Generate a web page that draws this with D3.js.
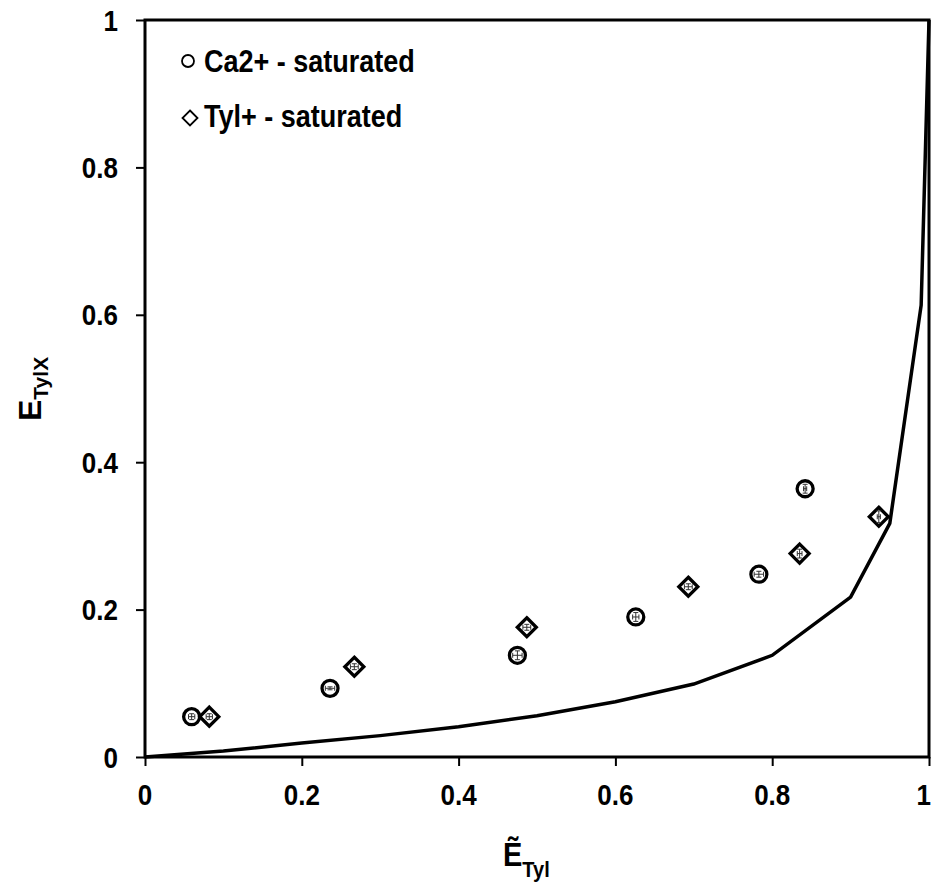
<!DOCTYPE html>
<html>
<head>
<meta charset="utf-8">
<script src="https://cdn.jsdelivr.net/npm/d3@7"></script>
<style>
  html, body { margin: 0; padding: 0; background: #fff; }
  svg { display: block; }
  text { font-family: "Liberation Sans", Arial, sans-serif; font-weight: bold; fill: #000; }
</style>
</head>
<body>
<svg id="chart" width="932" height="888"></svg>
<script>
// Theoretical selectivity curve
const curveX = [0, 0.1, 0.2, 0.3, 0.4, 0.5, 0.6, 0.7, 0.8, 0.9, 0.95, 0.99, 1];
const curveY = [0, 0.008, 0.019, 0.029, 0.041, 0.056, 0.075, 0.099, 0.138, 0.217, 0.317, 0.613, 1];

// Ca2+ - saturated measurements
const caX    = [0.0595, 0.236, 0.475, 0.626, 0.783, 0.842];
const caY    = [0.0547, 0.0932, 0.138, 0.190, 0.248, 0.364];
const caXErr = [0.004, 0.006, 0.006, 0.004, 0.006, 0.002];
const caYErr = [0.004, 0.002, 0.006, 0.006, 0.004, 0.006];

// Tyl+ - saturated measurements
const tylX    = [0.082, 0.267, 0.487, 0.693, 0.835, 0.936];
const tylY    = [0.0547, 0.1225, 0.176, 0.231, 0.276, 0.326];
const tylXErr = [0.004, 0.005, 0.005, 0.005, 0.003, 0.002];
const tylYErr = [0.004, 0.004, 0.004, 0.004, 0.006, 0.008];

const xTicks = [0, 0.2, 0.4, 0.6, 0.8, 1];
const yTicks = [0, 0.2, 0.4, 0.6, 0.8, 1];
const xTickLabels = ["0", "0.2", "0.4", "0.6", "0.8", "1"];
const yTickLabels = ["0", "0.2", "0.4", "0.6", "0.8", "1"];

const svg = d3.select("#chart");
const x = d3.scaleLinear().domain([0, 1]).range([145, 929]);
const y = d3.scaleLinear().domain([0, 1]).range([757, 20]);
const STRETCH = 1.13;

// helper: text slightly taller than wide, as in the original figure
function label(g, tx, ty, str, size, anchor) {
  return g.append("text")
    .attr("transform", `translate(${tx},${ty}) scale(1,${STRETCH})`)
    .attr("text-anchor", anchor || "start")
    .style("font-size", size + "px")
    .text(str);
}

// frame
svg.append("rect")
  .attr("x", x(0)).attr("y", y(1))
  .attr("width", x(1) - x(0)).attr("height", y(0) - y(1))
  .attr("fill", "none").attr("stroke", "#000").attr("stroke-width", 3);

// axes (ticks only, frame drawn above)
const xAxis = svg.append("g").attr("transform", `translate(0,${y(0)})`)
  .call(d3.axisBottom(x).tickValues(xTicks).tickSize(9).tickFormat(""));
const yAxis = svg.append("g").attr("transform", `translate(${x(0)},0)`)
  .call(d3.axisLeft(y).tickValues(yTicks).tickSize(9).tickFormat(""));
[xAxis, yAxis].forEach(a => {
  a.select(".domain").remove();
  a.selectAll(".tick line").attr("stroke", "#000").attr("stroke-width", 2);
});

// tick labels; the last x label is pulled in so it stays inside the page
xTicks.forEach((t, i) => {
  const last = i === xTicks.length - 1;
  label(svg, last ? 931 : x(t), 805, xTickLabels[i], 26, last ? "end" : "middle");
});
yTicks.forEach((t, i) => label(svg, 118, y(t) + 10.5, yTickLabels[i], 26, "end"));

// axis titles
const xt = svg.append("text")
  .attr("transform", `translate(503,866) scale(1,${STRETCH})`);
xt.append("tspan").style("font-size", "29px").text("\u1EBC");
xt.append("tspan").style("font-size", "20px").attr("dy", 10).text("Tyl");

const yt = svg.append("text")
  .attr("transform", "translate(41,421) rotate(-90)");
yt.append("tspan").style("font-size", "32px").text("E");
yt.append("tspan").style("font-size", "21px").attr("dy", 7).text("TylX");

// curve
const curve = curveX.map((v, i) => [v, curveY[i]]);
svg.append("path")
  .datum(curve)
  .attr("fill", "none").attr("stroke", "#000").attr("stroke-width", 3.5)
  .attr("stroke-linejoin", "miter")
  .attr("d", d3.line().x(d => x(d[0])).y(d => y(d[1])));

// error bars drawn inside markers
function errorBars(xs, ys, xe, ye) {
  const g = svg.append("g").attr("stroke", "#333").attr("stroke-width", 1);
  xs.forEach((v, i) => {
    const cx = x(v), cy = y(ys[i]);
    const dx = x(v + xe[i]) - cx, dy = cy - y(ys[i] + ye[i]);
    g.append("line").attr("x1", cx - dx).attr("x2", cx + dx).attr("y1", cy).attr("y2", cy);
    g.append("line").attr("x1", cx - dx).attr("x2", cx - dx).attr("y1", cy - 2.5).attr("y2", cy + 2.5);
    g.append("line").attr("x1", cx + dx).attr("x2", cx + dx).attr("y1", cy - 2.5).attr("y2", cy + 2.5);
    g.append("line").attr("x1", cx).attr("x2", cx).attr("y1", cy - dy).attr("y2", cy + dy);
    g.append("line").attr("x1", cx - 2.5).attr("x2", cx + 2.5).attr("y1", cy - dy).attr("y2", cy - dy);
    g.append("line").attr("x1", cx - 2.5).attr("x2", cx + 2.5).attr("y1", cy + dy).attr("y2", cy + dy);
  });
}

// Ca2+ markers
svg.append("g").selectAll("circle")
  .data(caX.map((v, i) => [v, caY[i]]))
  .join("circle")
  .attr("cx", d => x(d[0])).attr("cy", d => y(d[1])).attr("r", 8)
  .attr("fill", "#fff").attr("stroke", "#000").attr("stroke-width", 3.3);
errorBars(caX, caY, caXErr, caYErr);

// Tyl+ markers
const diamond = (cx, cy, h) => `M${cx},${cy - h}L${cx + h},${cy}L${cx},${cy + h}L${cx - h},${cy}Z`;
svg.append("g").selectAll("path")
  .data(tylX.map((v, i) => [v, tylY[i]]))
  .join("path")
  .attr("d", d => diamond(x(d[0]), y(d[1]), 9.5))
  .attr("fill", "#fff").attr("stroke", "#000").attr("stroke-width", 3.3)
  .attr("stroke-linejoin", "miter");
errorBars(tylX, tylY, tylXErr, tylYErr);

// legend
const lg = svg.append("g");
lg.append("circle").attr("cx", 188).attr("cy", 61).attr("r", 6)
  .attr("fill", "none").attr("stroke", "#000").attr("stroke-width", 1.8);
label(lg, 204, 72, "Ca2+ - saturated", 27);
lg.append("path").attr("d", diamond(190, 118, 7.5))
  .attr("fill", "none").attr("stroke", "#000").attr("stroke-width", 1.8);
label(lg, 204, 127, "Tyl+ - saturated", 27);
</script>
</body>
</html>
